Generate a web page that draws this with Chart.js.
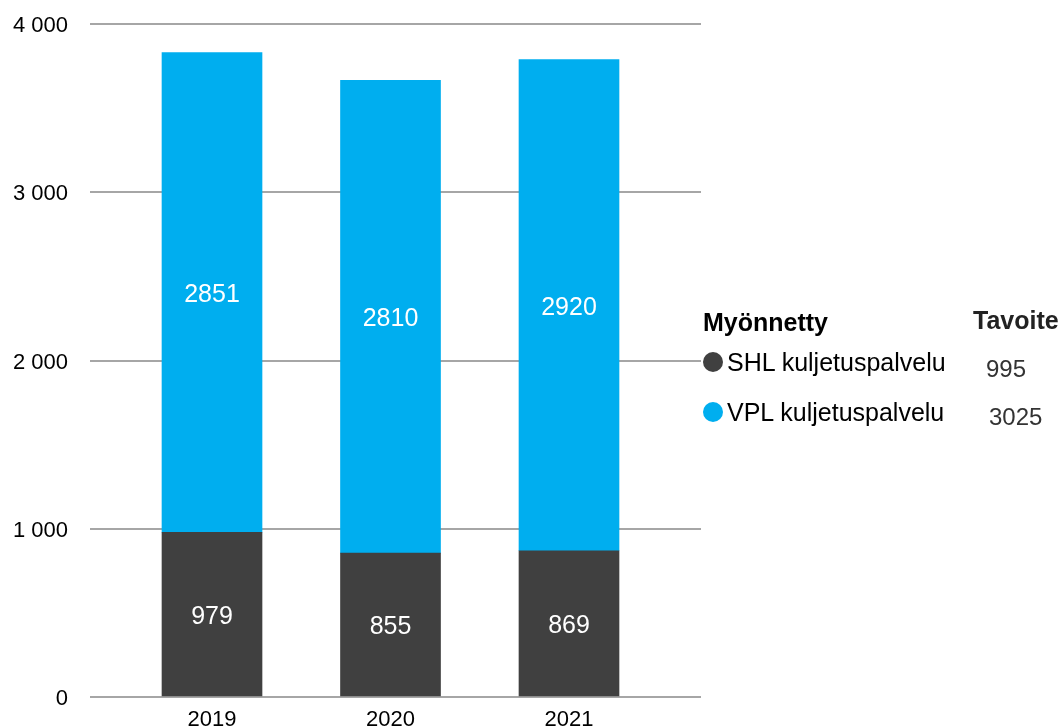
<!DOCTYPE html>
<html>
<head>
<meta charset="utf-8">
<script src="https://cdn.jsdelivr.net/npm/chart.js@4/dist/chart.umd.min.js"></script>
<style>
  html, body { margin: 0; padding: 0; background: #fff; }
  #wrap { position: relative; width: 1063px; height: 728px; font-family: "Liberation Sans", Arial, sans-serif; }
  #c { position: absolute; left: 0; top: 0; }
  .lg { position: absolute; white-space: nowrap; line-height: 26px; font-size: 25px; color: #000; }
  .b { font-weight: bold; }
  .dot { position: absolute; width: 20px; height: 20px; border-radius: 50%; }
  .val { color: #333; font-size: 24px; }
</style>
</head>
<body>
<div id="wrap">
  <canvas id="c" width="1063" height="728"></canvas>
  <div class="lg b" style="left:703px; top:309px;">Myönnetty</div>
  <div class="lg b" style="left:973px; top:307px; color:#222;">Tavoite</div>
  <div class="dot" style="left:703px; top:352px; background:#404040;"></div>
  <div class="lg" style="left:727px; top:349px;">SHL kuljetuspalvelu</div>
  <div class="lg val" style="left:986px; top:356px;">995</div>
  <div class="dot" style="left:703px; top:402px; background:#00AEEF;"></div>
  <div class="lg" style="left:727px; top:399px;">VPL kuljetuspalvelu</div>
  <div class="lg val" style="left:989px; top:404px;">3025</div>
</div>
<script>
const years = [2019, 2020, 2021];
const shlValues = [979, 855, 869];
const vplValues = [2851, 2810, 2920];
const yTicks = [0, 1000, 2000, 3000, 4000];
const seriesNames = ["SHL kuljetuspalvelu", "VPL kuljetuspalvelu"];
const targets = [995, 3025];

const labelPlugin = {
  id: 'segLabels',
  afterDatasetsDraw(chart) {
    const ctx = chart.ctx;
    ctx.save();
    ctx.fillStyle = '#ffffff';
    ctx.font = '25px "Liberation Sans", Arial, sans-serif';
    ctx.textAlign = 'center';
    ctx.textBaseline = 'middle';
    chart.data.datasets.forEach((ds, di) => {
      const meta = chart.getDatasetMeta(di);
      meta.data.forEach((el, i) => {
        const y = (el.y + el.base) / 2;
        ctx.fillText(String(ds.data[i].y), el.x, y + 2.5);
      });
    });
    ctx.restore();
  }
};

const ctx = document.getElementById('c').getContext('2d');
new Chart(ctx, {
  type: 'bar',
  data: {
    datasets: [
      { label: seriesNames[0], data: years.map((y, i) => ({ x: y, y: shlValues[i] })), backgroundColor: '#404040', barThickness: 100 },
      { label: seriesNames[1], data: years.map((y, i) => ({ x: y, y: vplValues[i] })), backgroundColor: '#00AEEF', barThickness: 100 }
    ]
  },
  options: {
    responsive: false,
    animation: false,
    layout: { padding: { top: 24, right: 362, left: 0, bottom: 0 } },
    plugins: { legend: { display: false }, tooltip: { enabled: false } },
    scales: {
      x: {
        type: 'linear',
        stacked: true,
        offset: false,
        min: 2018.3165,
        max: 2021.7395,
        afterBuildTicks(scale) { scale.ticks = years.map(v => ({ value: v })); },
        afterFit(scale) { scale.height = 31; },
        grid: { display: false, drawTicks: false },
        border: { display: false },
        ticks: {
          padding: 10,
          color: '#000',
          font: { family: '"Liberation Sans", Arial, sans-serif', size: 22 },
          callback: v => String(v),
          maxRotation: 0
        }
      },
      y: {
        stacked: true,
        min: 0,
        max: 4000,
        afterBuildTicks(scale) { scale.ticks = yTicks.map(v => ({ value: v })); },
        afterFit(scale) { scale.width = 90; },
        grid: { color: '#a6a6a6', lineWidth: 2, drawTicks: true, tickLength: 22, tickColor: 'rgba(0,0,0,0)' },
        border: { display: false },
        ticks: {
          padding: 0,
          labelOffset: 2,
          color: '#000',
          font: { family: '"Liberation Sans", Arial, sans-serif', size: 22 },
          callback: v => v === 0 ? '0' : String(v).replace(/\B(?=(\d{3})+(?!\d))/g, ' ')
        }
      }
    }
  },
  plugins: [labelPlugin]
});
</script>
</body>
</html>
